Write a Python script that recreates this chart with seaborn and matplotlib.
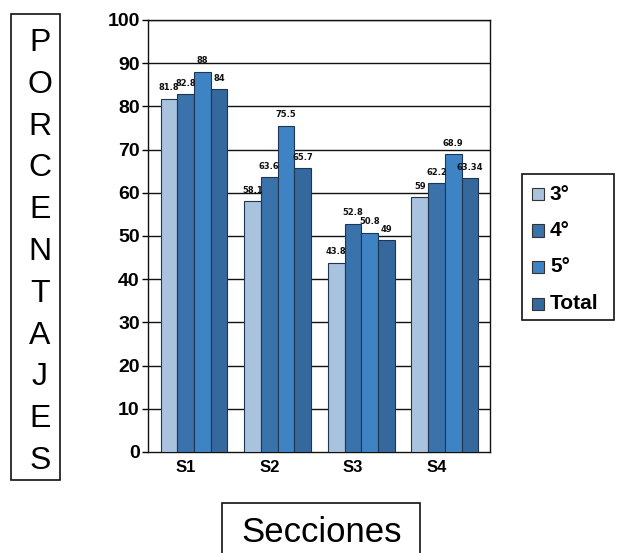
import matplotlib
matplotlib.use("Agg")
import matplotlib.pyplot as plt
from matplotlib.patches import Rectangle
import seaborn as sns
import pandas as pd

secciones = ["S1", "S2", "S3", "S4"]
grados = ["3°", "4°", "5°", "Total"]
valores_3 = [81.8, 58.1, 43.8, 59]
valores_4 = [82.8, 63.6, 52.8, 62.2]
valores_5 = [88, 75.5, 50.8, 68.9]
valores_total = [84, 65.7, 49, 63.34]
y_ticks = list(range(0, 101, 10))

colores = ["#a9c3de", "#3a72ab", "#3e84c4", "#35689d"]

filas = []
for g, serie in zip(grados, [valores_3, valores_4, valores_5, valores_total]):
    for s, v in zip(secciones, serie):
        filas.append({"Seccion": s, "Grado": g, "Valor": v})
df = pd.DataFrame(filas)

sns.set_theme(style="white")
plt.rcParams["font.family"] = ["Liberation Sans", "DejaVu Sans"]
plt.rcParams["text.color"] = "black"
plt.rcParams["xtick.color"] = "black"
plt.rcParams["ytick.color"] = "black"

fig = plt.figure(figsize=(6.17, 5.53), dpi=100)
ax = fig.add_axes([148 / 617, 1 - 452 / 553, (490 - 148) / 617, (452 - 20) / 553])

sns.barplot(data=df, x="Seccion", y="Valor", hue="Grado", order=secciones,
            hue_order=grados, palette=colores, width=0.8, gap=0,
            edgecolor="#1f3550", linewidth=0.8, saturation=1, ax=ax,
            legend=False, zorder=3)

for cont in ax.containers:
    for bar in cont:
        h = bar.get_height()
        ax.text(bar.get_x() + bar.get_width() / 2, h + 1.5, f"{h:g}",
                ha="center", va="bottom", fontsize=6, fontweight="bold",
                family="DejaVu Sans", color="#111111", zorder=5)

ax.set_ylim(0, 100)
ax.set_xlim(-0.55, 3.54)
ax.set_yticks(y_ticks)
ax.set_yticklabels([str(t) for t in y_ticks], fontsize=14, fontweight="bold")
# category labels sit slightly left of the bar groups (perspective of the 3-D frame)
ax.set_xticks([i - 0.1 for i in range(len(secciones))])
ax.set_xticklabels(secciones, fontsize=12, fontweight="bold")
ax.set_xlabel("")
ax.set_ylabel("")
for y in y_ticks[1:]:
    ax.axhline(y, color="#111111", lw=1.0, zorder=1)
ax.tick_params(axis="y", direction="out", length=4, width=1, color="black", pad=2, left=True)
ax.tick_params(axis="x", direction="out", length=0, pad=6)
for side in ["left", "bottom", "right", "top"]:
    ax.spines[side].set_color("#111111")
    ax.spines[side].set_linewidth(1.0)

# boxed vertical axis title, one letter per line
W, H = 617, 553
fig.patches.append(Rectangle((11 / W, 1 - 480 / H), 49 / W, 466 / H, transform=fig.transFigure,
                             fill=False, edgecolor="#111111", lw=1.2))
for i, c in enumerate("PORCENTAJES"):
    yc = 43 + i * 41.8
    fig.text(40 / W, 1 - yc / H, c, ha="center", va="center", fontsize=23)

# boxed horizontal axis title
fig.patches.append(Rectangle((222 / W, 1 - 560 / H), 198 / W, 57 / H, transform=fig.transFigure,
                             fill=False, edgecolor="#111111", lw=1.2))
fig.text(322 / W, 1 - 533 / H, "Secciones", ha="center", va="center", fontsize=25)

# legend box
fig.patches.append(Rectangle((522 / W, 1 - 320 / H), 92 / W, 146 / H, transform=fig.transFigure,
                             fill=False, edgecolor="#111111", lw=1.2))
for i, (g, col) in enumerate(zip(grados, colores)):
    yc = 194 + i * 36.5
    fig.patches.append(Rectangle((532 / W, 1 - (yc + 6) / H), 12 / W, 12 / H,
                                 transform=fig.transFigure, facecolor=col,
                                 edgecolor="#333333", lw=0.8))
    fig.text(550 / W, 1 - yc / H, g, ha="left", va="center", fontsize=15, fontweight="bold")

fig.savefig("out.png", dpi=100)
